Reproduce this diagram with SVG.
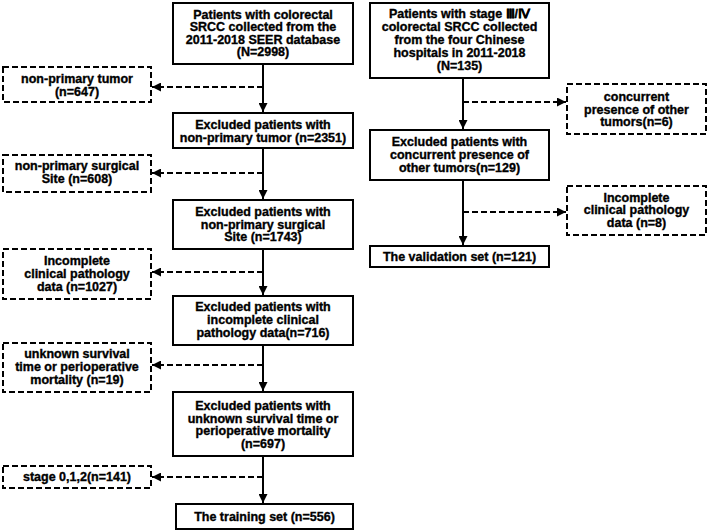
<svg xmlns="http://www.w3.org/2000/svg" width="708" height="531" viewBox="0 0 708 531">
<style>
.box{fill:#fff;stroke:#000;stroke-width:2}
.dbox{fill:#fff;stroke:#000;stroke-width:2;stroke-dasharray:6 3}
text{font-family:"Liberation Sans",Arial,sans-serif;font-weight:bold;font-size:12.5px;fill:#000;stroke:#000;stroke-width:0.35;text-anchor:middle}
.solid{stroke:#000;stroke-width:2;fill:none}
.dash{stroke:#000;stroke-width:2;fill:none;stroke-dasharray:6 3}
</style>
<defs>
<marker id="ah" viewBox="0 0 10 10" refX="10" refY="5" markerWidth="4.5" markerHeight="4.5" orient="auto" markerUnits="strokeWidth">
<path d="M0,0 L10,5 L0,10 Z" fill="#000"/>
</marker>
</defs>
<rect width="708" height="531" fill="#fff"/>
<g id="connectors">
<line class="solid" x1="263" y1="64" x2="263" y2="112" marker-end="url(#ah)"/>
<line class="dash" x1="263" y1="87" x2="152" y2="87" marker-end="url(#ah)"/>
<line class="solid" x1="263" y1="148" x2="263" y2="199" marker-end="url(#ah)"/>
<line class="dash" x1="263" y1="173" x2="152" y2="173" marker-end="url(#ah)"/>
<line class="solid" x1="263" y1="249" x2="263" y2="295" marker-end="url(#ah)"/>
<line class="dash" x1="263" y1="272" x2="152" y2="272" marker-end="url(#ah)"/>
<line class="solid" x1="263" y1="345" x2="263" y2="391" marker-end="url(#ah)"/>
<line class="dash" x1="263" y1="365" x2="152" y2="365" marker-end="url(#ah)"/>
<line class="solid" x1="263" y1="456" x2="263" y2="503" marker-end="url(#ah)"/>
<line class="dash" x1="263" y1="477" x2="152" y2="477" marker-end="url(#ah)"/>
<line class="solid" x1="463" y1="78" x2="463" y2="129" marker-end="url(#ah)"/>
<line class="dash" x1="463" y1="102" x2="566" y2="102" marker-end="url(#ah)"/>
<line class="solid" x1="463" y1="180" x2="463" y2="245" marker-end="url(#ah)"/>
<line class="dash" x1="463" y1="212" x2="566" y2="212" marker-end="url(#ah)"/>
</g>
<g id="seer">
<rect class="box" x="173" y="3" width="180" height="61"/>
<text x="263" y="18.5">Patients with colorectal</text>
<text x="263" y="31">SRCC collected from the</text>
<text x="263" y="43.5">2011-2018 SEER database</text>
<text x="263" y="56">(N=2998)</text>
</g>
<g id="ex-nonprimary-tumor">
<rect class="dbox" x="3" y="67" width="148" height="35"/>
<text x="77" y="83">non-primary tumor</text>
<text x="77" y="96">(n=647)</text>
</g>
<g id="after-tumor">
<rect class="box" x="173" y="113" width="180" height="35"/>
<text x="263" y="128.5">Excluded patients with</text>
<text x="263" y="141.5">non-primary tumor (n=2351)</text>
</g>
<g id="ex-surgical">
<rect class="dbox" x="3" y="155" width="148" height="37"/>
<text x="77" y="170">non-primary surgical</text>
<text x="77" y="182.5">Site (n=608)</text>
</g>
<g id="after-surgical">
<rect class="box" x="173" y="200" width="180" height="49"/>
<text x="263" y="216">Excluded patients with</text>
<text x="263" y="228.5">non-primary surgical</text>
<text x="263" y="241">Site (n=1743)</text>
</g>
<g id="ex-pathology">
<rect class="dbox" x="3" y="249" width="148" height="50"/>
<text x="77" y="265">Incomplete</text>
<text x="77" y="278">clinical pathology</text>
<text x="77" y="291">data (n=1027)</text>
</g>
<g id="after-pathology">
<rect class="box" x="173" y="296" width="180" height="49"/>
<text x="263" y="311">Excluded patients with</text>
<text x="263" y="324">incomplete clinical</text>
<text x="263" y="337">pathology data(n=716)</text>
</g>
<g id="ex-survival">
<rect class="dbox" x="3" y="343" width="148" height="49"/>
<text x="77" y="358">unknown survival</text>
<text x="77" y="371">time or perioperative</text>
<text x="77" y="384">mortality (n=19)</text>
</g>
<g id="after-survival">
<rect class="box" x="173" y="392" width="180" height="64"/>
<text x="263" y="410">Excluded patients with</text>
<text x="263" y="422.5">unknown survival time or</text>
<text x="263" y="435">perioperative mortality</text>
<text x="263" y="447.5">(n=697)</text>
</g>
<g id="ex-stage">
<rect class="dbox" x="3" y="466" width="148" height="22"/>
<text x="77" y="481">stage 0,1,2(n=141)</text>
</g>
<g id="training">
<rect class="box" x="176" y="504" width="177" height="25"/>
<text x="264.5" y="521">The training set (n=556)</text>
</g>
<g id="chinese">
<rect class="box" x="370" y="3" width="179" height="75"/>
<text x="459.5" y="18">Patients with stage Ⅲ/Ⅳ</text>
<text x="459.5" y="31">colorectal SRCC collected</text>
<text x="459.5" y="44">from the four Chinese</text>
<text x="459.5" y="57">hospitals in 2011-2018</text>
<text x="459.5" y="70">(N=135)</text>
</g>
<g id="ex-concurrent">
<rect class="dbox" x="567" y="84" width="139" height="50"/>
<text x="636.5" y="101">concurrent</text>
<text x="636.5" y="113.5">presence of other</text>
<text x="636.5" y="126">tumors(n=6)</text>
</g>
<g id="after-concurrent">
<rect class="box" x="370" y="130" width="179" height="50"/>
<text x="459.5" y="146">Excluded patients with</text>
<text x="459.5" y="159">concurrent presence of</text>
<text x="459.5" y="171.5">other tumors(n=129)</text>
</g>
<g id="ex-pathology-cn">
<rect class="dbox" x="567" y="186" width="139" height="49"/>
<text x="636.5" y="201.5">Incomplete</text>
<text x="636.5" y="214">clinical pathology</text>
<text x="636.5" y="227">data (n=8)</text>
</g>
<g id="validation">
<rect class="box" x="370" y="246" width="179" height="21"/>
<text x="459.5" y="261">The validation set (n=121)</text>
</g>
</svg>
